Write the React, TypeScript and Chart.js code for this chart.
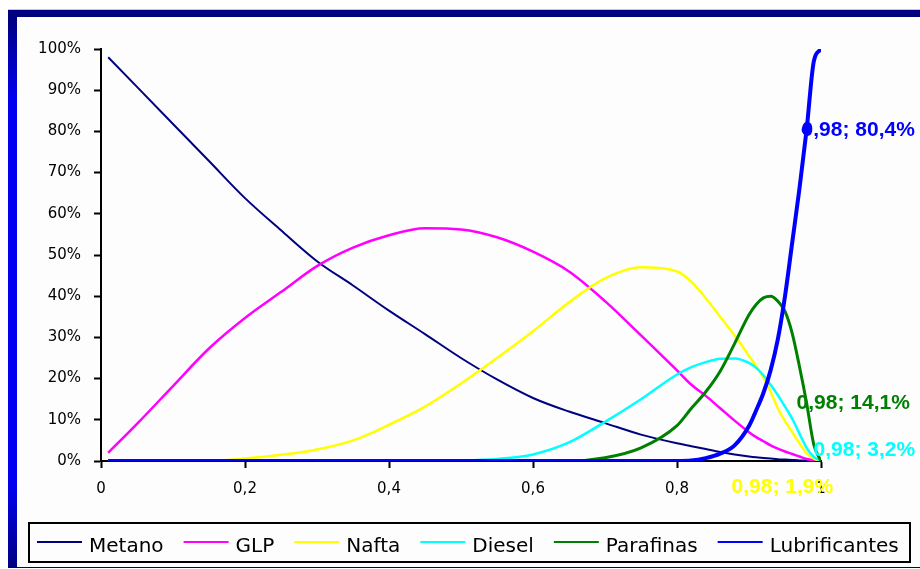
import React, { useEffect, useRef } from "react";
import { Chart, registerables } from "chart.js";

Chart.register(...registerables);

// ---- data -----------------------------------------------------------
const xValues = [0.01, 0.05, 0.1, 0.15, 0.2, 0.25, 0.3, 0.35, 0.4, 0.45, 0.5, 0.55, 0.6, 0.65, 0.7, 0.75, 0.8, 0.82, 0.84, 0.86, 0.88, 0.9, 0.91, 0.92, 0.93, 0.94, 0.95, 0.96, 0.97, 0.98, 0.99, 1.0];

const metano = [98, 90.8, 81.8, 72.8, 63.8, 56, 48.5, 42.6, 36.5, 30.8, 25, 19.8, 15.3, 12, 9.2, 6.4, 4.3, 3.6, 2.9, 2.2, 1.6, 1.1, 0.9, 0.75, 0.6, 0.45, 0.35, 0.25, 0.15, 0.1, 0.05, 0];
const glp = [2, 9, 18.2, 27.3, 34.7, 41, 47.3, 51.8, 54.8, 56.5, 56.2, 54.3, 50.8, 46, 38.8, 30.5, 22, 18.5, 15.8, 12.8, 9.8, 7.0, 5.8, 4.8, 3.8, 3.0, 2.3, 1.7, 1.1, 0.5, 0.2, 0];
const nafta = [0, 0, 0, 0, 0.6, 1.5, 2.8, 5, 8.8, 13.2, 18.8, 25, 31.5, 38.5, 44.3, 47, 46, 43.5, 39.5, 35, 30.5, 25.5, 23, 20.3, 16.8, 12.8, 9.7, 7.0, 4.3, 1.9, 0.6, 0];
const diesel = [0, 0, 0, 0, 0, 0, 0, 0, 0, 0, 0.1, 0.5, 1.6, 4.5, 9.5, 15, 21, 22.8, 24, 24.8, 24.9, 23.8, 22.6, 20.8, 18.5, 16, 13.2, 10.3, 6.7, 3.2, 1.0, 0];
const parafinas = [0, 0, 0, 0, 0, 0, 0, 0, 0, 0, 0, 0, 0, 0, 0.8, 3.2, 8.6, 12.8, 16.8, 21.8, 28.5, 35.5, 38, 39.6, 40, 38.8, 36.3, 31, 23, 14.1, 4, 0];
const lubrificantes = [0, 0, 0, 0, 0, 0, 0, 0, 0, 0, 0, 0, 0, 0, 0, 0, 0, 0.1, 0.7, 1.8, 3.8, 8.5, 12.3, 16.5, 22, 29.5, 40, 53, 66, 80.4, 97, 100];

const seriesNames = ["Metano", "GLP", "Nafta", "Diesel", "Parafinas", "Lubrificantes"];
const seriesValues = [metano, glp, nafta, diesel, parafinas, lubrificantes];

// x value whose points get a data label, and which series are labelled
const labelX = 0.98;
const labelledSeries = [5, 4, 3, 2];

// ---- styles ---------------------------------------------------------
const seriesColors = ["#000080", "#ff00ff", "#ffff00", "#00ffff", "#008000", "#0000ff"];
const seriesWidths = [2, 2.5, 2.5, 2.5, 3, 4];
const labelOffsets: Record<number, [number, number]> = {
  5: [-5, 0],
  4: [-10, 0],
  3: [7, 2],
  2: [-75, 34],
};

const W = 920;
const H = 569;

const fmt = (v: number) => String(Math.round(v * 100) / 100).replace(".", ",");

const framePlugin = {
  id: "frame",
  beforeDraw(chart: any) {
    const ctx = chart.ctx as CanvasRenderingContext2D;
    ctx.save();
    ctx.fillStyle = "#ffffff";
    ctx.fillRect(0, 0, W, H);
    ctx.fillStyle = "#c8c8c8";
    ctx.fillRect(8, 9, W - 8, 1);
    ctx.fillStyle = "#000080";
    ctx.fillRect(8, 10, W - 8, 7);
    const g = ctx.createLinearGradient(0, 17, 0, 568);
    g.addColorStop(0, "#000080");
    g.addColorStop(0.15, "#0000f0");
    g.addColorStop(0.85, "#0000f0");
    g.addColorStop(1, "#000080");
    ctx.fillStyle = g;
    ctx.fillRect(8, 17, 9, 551);
    ctx.fillStyle = "#fdfdfd";
    ctx.fillRect(17, 17, W - 17, 550);
    ctx.fillStyle = "#000080";
    ctx.fillRect(17, 567, W - 17, 1);
    ctx.restore();
  },
};

const labelsPlugin = {
  id: "dataLabels",
  afterDatasetsDraw(chart: any) {
    const ctx = chart.ctx as CanvasRenderingContext2D;
    const xs = chart.scales.x;
    const ys = chart.scales.y;
    const idx = xValues.indexOf(labelX);
    ctx.save();
    ctx.font = 'bold 21px "Liberation Sans", Arial, sans-serif';
    ctx.textAlign = "left";
    ctx.textBaseline = "middle";
    for (const s of labelledSeries) {
      const v = seriesValues[s][idx];
      const px = xs.getPixelForValue(labelX);
      const py = ys.getPixelForValue(v);
      const [dx, dy] = labelOffsets[s];
      ctx.fillStyle = seriesColors[s];
      ctx.fillText(`${fmt(labelX)}; ${fmt(v)}%`, px + dx, py + dy);
    }
    ctx.restore();
  },
};

const legendPlugin = {
  id: "boxLegend",
  afterDraw(chart: any) {
    const ctx = chart.ctx as CanvasRenderingContext2D;
    ctx.save();
    ctx.strokeStyle = "#000";
    ctx.lineWidth = 2;
    ctx.strokeRect(29, 523, 881, 39);
    ctx.font = '20px "DejaVu Sans", sans-serif';
    ctx.textBaseline = "alphabetic";
    ctx.textAlign = "left";
    let x = 37;
    seriesNames.forEach((name, i) => {
      ctx.strokeStyle = seriesColors[i];
      ctx.lineWidth = 2;
      ctx.beginPath();
      ctx.moveTo(x, 542);
      ctx.lineTo(x + 45, 542);
      ctx.stroke();
      ctx.fillStyle = "#000";
      ctx.fillText(name, x + 52, 551.5);
      x += 52 + ctx.measureText(name).width + 20;
    });
    ctx.restore();
  },
};

export default function App() {
  const ref = useRef<HTMLCanvasElement | null>(null);

  useEffect(() => {
    if (!ref.current) return;
    const labelIdx = xValues.indexOf(labelX);
    const chart = new Chart(ref.current, {
      type: "line",
      data: {
        datasets: seriesNames.map((name, i) => ({
          label: name,
          data: xValues.map((x, j) => ({ x, y: seriesValues[i][j] })),
          borderColor: seriesColors[i],
          backgroundColor: seriesColors[i],
          borderWidth: seriesWidths[i],
          pointRadius: xValues.map((_, j) => (i === 5 && j === labelIdx ? 5 : 0)),
          pointBorderWidth: 0,
          pointHoverRadius: 0,
          cubicInterpolationMode: "monotone" as const,
          fill: false,
          order: seriesNames.length - 1 - i,
        })),
      },
      options: {
        responsive: false,
        animation: false,
        devicePixelRatio: 1,
        layout: { padding: { left: 0, right: 99, top: 49, bottom: 68 } },
        plugins: {
          legend: { display: false },
          tooltip: { enabled: false },
        },
        scales: {
          x: {
            type: "linear",
            min: 0,
            max: 1,
            afterFit: (s: any) => {
              s.height = 40;
            },
            ticks: {
              stepSize: 0.2,
              color: "#000",
              padding: 12,
              font: { family: "DejaVu Sans", size: 15 },
              callback: (v: any) => fmt(Number(v)),
              maxRotation: 0,
            },
            grid: { drawOnChartArea: false, drawTicks: true, tickLength: 7, tickColor: "#000", tickWidth: 2 },
            border: { display: true, color: "#000", width: 2 },
          },
          y: {
            type: "linear",
            min: 0,
            max: 100,
            afterFit: (s: any) => {
              s.width = 101;
            },
            ticks: {
              stepSize: 10,
              color: "#000",
              padding: 13,
              font: { family: "DejaVu Sans", size: 15 },
              callback: (v: any) => `${v}%`,
            },
            grid: { drawOnChartArea: false, drawTicks: true, tickLength: 7, tickColor: "#000", tickWidth: 2 },
            border: { display: true, color: "#000", width: 2 },
          },
        },
      },
      plugins: [framePlugin, labelsPlugin, legendPlugin],
    });
    return () => chart.destroy();
  }, []);

  return (
    <div style={{ position: "fixed", left: 0, top: 0, width: W, height: H, background: "#fff" }}>
      <canvas ref={ref} width={W} height={H} style={{ display: "block", width: W, height: H }} />
    </div>
  );
}
